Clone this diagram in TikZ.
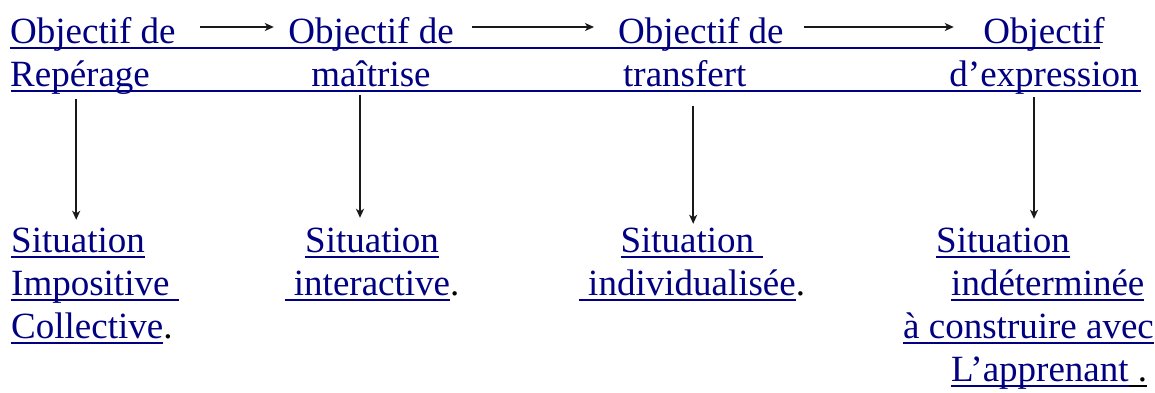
\documentclass[tikz,border=0pt]{standalone}
\usepackage{fontspec}
\setmainfont{Liberation Serif}
\usetikzlibrary{calc, arrows.meta}

\definecolor{bleulien}{RGB}{0,0,128}
\newsavebox{\lienbox}
\newcommand{\lien}[1]{\sbox{\lienbox}{#1}\rlap{\rule[-5.5pt]{\wd\lienbox}{2pt}}\usebox{\lienbox}}
\newcommand{\point}{\textcolor{black}{.}}

\begin{document}
\begin{tikzpicture}[
        x=1pt, y=-1pt,
        objectif/.style={inner sep=0pt, text=bleulien, font=\fontsize{37}{43}\selectfont},
        situation/.style={inner sep=0pt, text=bleulien, font=\fontsize{37}{43}\selectfont},
        fleche/.style={-{Stealth[length=9pt, width=8pt, inset=2.5pt]}, line width=1.5pt, color=black!90},
        souligne/.style={draw=bleulien, line width=2pt}
    ]
        \useasboundingbox (0,0) rectangle (1155,392);

        \node[objectif, align=left, anchor=base west] (obj1) at (10,86) {Objectif de\\Repérage};
        \node[objectif, align=center, anchor=base] (obj2) at (371,86) {Objectif de\\maîtrise};
        \node[objectif, align=left, anchor=base west] (obj3) at (618,86) {Objectif de\\\hspace*{5pt}transfert};
        \node[objectif, align=center, anchor=base] (obj4) at (1044,86) {Objectif\\d’expression};

        \draw[souligne] (10,47.5) -- (1100,47.5);
        \draw[souligne] (11,90.5) -- (1141,90.5);

        \node[situation, align=left, anchor=base west] (sit1) at (11,338)
            {\lien{Situation}\\\lien{Impositive }\\\lien{Collective}\point};
        \node[situation, align=center, anchor=base] (sit2) at (372,295)
            {\lien{Situation}\\\lien{ interactive}\point};
        \node[situation, align=center, anchor=base] (sit3) at (692,295)
            {\lien{Situation }\\\lien{ individualisée}\point};
        \node[situation, align=left, anchor=base west] (sit4) at (903,381)
            {\hspace*{33pt}\lien{Situation}\\\hspace*{48pt}\lien{indéterminée}\\\lien{à construire avec}\\\hspace*{48pt}\lien{L’apprenant}{\color{black}\lien{ .}}};

        \draw[fleche] ($(obj1.base east)+(24.6,-59)$) -- ($(obj2.base west)+(-14.3,-59)$);
        \draw[fleche] ($(obj2.base east)+(18.3,-59)$) -- ($(obj3.base west)+(-24,-59)$);
        \draw[fleche] ($(obj3.base east)+(20.6,-59)$) -- ($(obj4.base west)+(4.5,-59)$);

        \draw[fleche] ($(obj1.south)+(-16.7,5)$) -- ($(obj1.south |- sit1.north)+(-16.7,-7.5)$);
        \draw[fleche] ($(obj2.south)+(-11,8)$) -- ($(obj2.south |- sit2.north)+(-11,-9.5)$);
        \draw[fleche] ($(obj3.south)+(-7.7,19)$) -- ($(obj3.south |- sit3.north)+(-7.7,-3.5)$);
        \draw[fleche] ($(obj4.south)+(-10,3)$) -- ($(obj4.south |- sit4.north)+(-10,-8.5)$);
    \end{tikzpicture}
\end{document}
